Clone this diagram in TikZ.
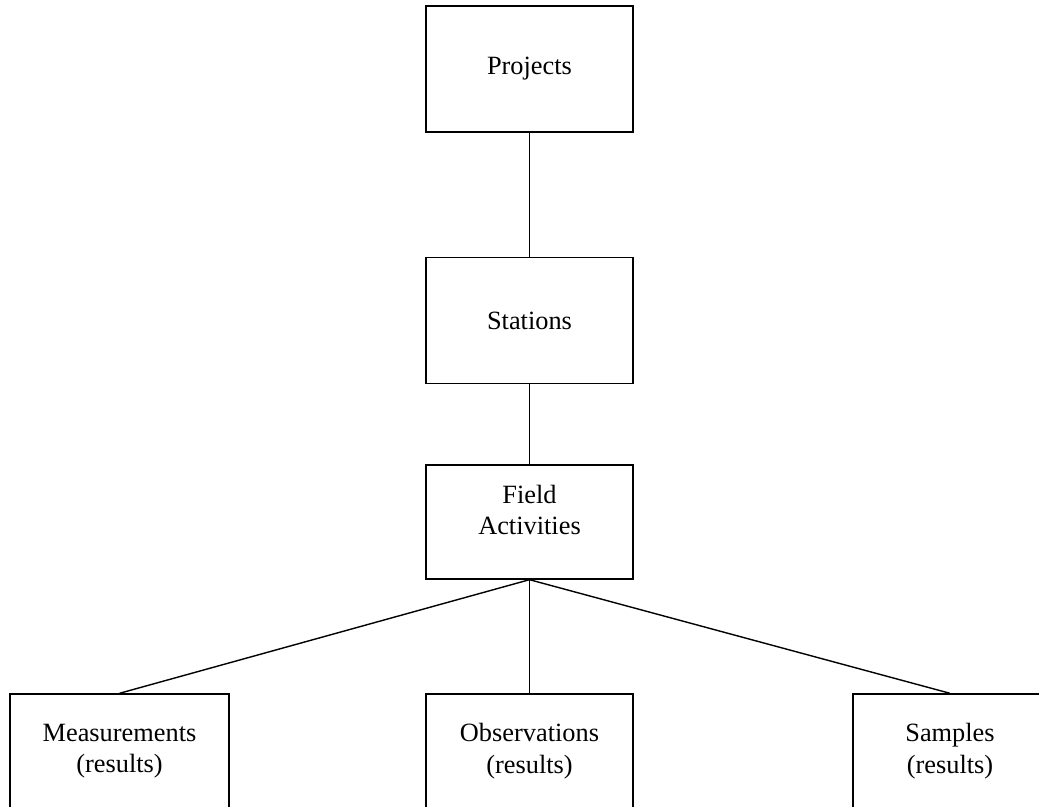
\documentclass[tikz,border=0pt]{standalone}
\usepackage{fontspec}
\setmainfont{Liberation Serif}
\begin{document}
\begin{tikzpicture}[x=0.02cm,y=-0.02cm,
    box/.style={draw,line width=0.8pt,minimum width=4.14cm,minimum height=2.52cm,inner sep=0pt},
    leaf/.style={box,minimum height=2.28cm},
    lbl/.style={align=center,font=\fontsize{15}{18}\selectfont},
    link/.style={line width=0.8pt}]
    \useasboundingbox (0,0) rectangle (1039,807);
    \clip (0,0) rectangle (1039,807);
    % upper chain
    \node[box,lbl] (projects) at (529.5,69) {Projects};
    \node[box,lbl] (stations) at (529.5,320.5) {Stations};
    \node[box,minimum height=2.28cm] (field) at (529.5,522) {};
    \node[lbl] (fieldtxt) at (529.5,510) {Field\\Activities};
    % results, cut off by the page edge
    \node[leaf,lbl,minimum width=4.38cm] (meas) at (119.5,751) {Measurements\\(results)};
    \node[leaf,lbl] (obs) at (529.5,751) {Observations\\(results)};
    \node[leaf,lbl,minimum width=3.88cm] (samples) at (950,751) {Samples\\(results)};
    \draw[link] (projects) -- (stations);
    \draw[link] (stations) -- (field);
    \draw[link] (field.south) -- (meas.north);
    \draw[link] (field.south) -- (obs.north);
    \draw[link] (field.south) -- (samples.north);
  \end{tikzpicture}
\end{document}
